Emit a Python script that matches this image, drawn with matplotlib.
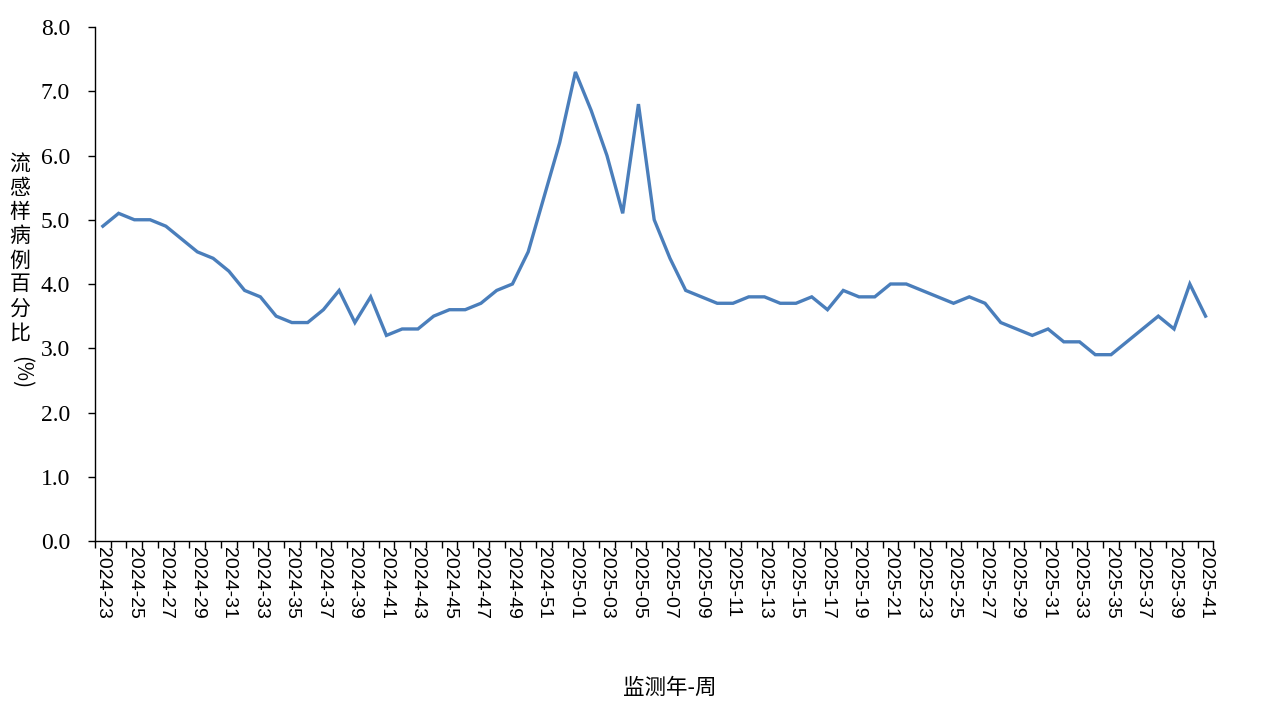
import numpy as np
import matplotlib
matplotlib.use('Agg')
import matplotlib.pyplot as plt

# weeks 2024-23 .. 2024-52, then 2025-01 .. 2025-41
weeks_2024 = ['2024-%02d' % w for w in range(23, 53)]
weeks_2025 = ['2025-%02d' % w for w in range(1, 42)]
weeks = weeks_2024 + weeks_2025

ili_2024 = [4.9, 5.1, 5.0, 5.0, 4.9, 4.7, 4.5, 4.4, 4.2, 3.9,
            3.8, 3.5, 3.4, 3.4, 3.6, 3.9, 3.4, 3.8, 3.2, 3.3,
            3.3, 3.5, 3.6, 3.6, 3.7, 3.9, 4.0, 4.5, 5.35, 6.2]
ili_2025 = [7.3, 6.7, 6.0, 5.1, 6.8, 5.0, 4.4, 3.9, 3.8, 3.7,
            3.7, 3.8, 3.8, 3.7, 3.7, 3.8, 3.6, 3.9, 3.8, 3.8,
            4.0, 4.0, 3.9, 3.8, 3.7, 3.8, 3.7, 3.4, 3.3, 3.2,
            3.3, 3.1, 3.1, 2.9, 2.9, 3.1, 3.3, 3.5, 3.3, 4.0,
            3.5]
ili = ili_2024 + ili_2025

cjk = ['Noto Sans CJK SC', 'DejaVu Sans']

fig = plt.figure(figsize=(12.8, 7.2), dpi=100)
ax = fig.add_axes([0.0742, 0.2486, 0.8738, 0.7139])

x = np.arange(len(weeks))
ax.plot(x, ili, color='#4A7EBB', lw=2.4, solid_joinstyle='miter')

ax.set_xlim(-0.5, len(weeks) - 0.5)
ax.set_ylim(0, 8)
ax.set_yticks(np.arange(0, 8.1, 1))
ax.set_yticklabels(['%.1f' % v for v in np.arange(0, 8.1, 1)],
                   family='Liberation Serif', fontsize=17)

ax.set_xticks(x[::2])
ax.set_xticklabels(weeks[::2], rotation=270, family='Liberation Sans', fontsize=14)
ax.set_xticks(np.arange(-0.5, len(weeks), 1), minor=True)
ax.tick_params(axis='x', which='major', length=0, pad=4)
ax.tick_params(axis='x', which='minor', length=5, direction='out', width=1)
ax.tick_params(axis='y', length=5, direction='out', width=1, pad=13)

for s in ['top', 'right']:
    ax.spines[s].set_visible(False)
for s in ['left', 'bottom']:
    ax.spines[s].set_linewidth(1)

# vertical y-axis title, characters stacked
fig.text(0.0156, 0.655, '\n'.join('流感样病例百分比'), family=cjk, fontsize=15,
         ha='center', va='center', linespacing=1.12)
fig.text(0.0165, 0.483, '(%)', family=cjk, fontsize=15, rotation=270,
         ha='center', va='center')

fig.text(0.523, 0.045, '监测年-周', family=cjk, fontsize=15.5, ha='center', va='center')

fig.savefig('out.png', dpi=100)
